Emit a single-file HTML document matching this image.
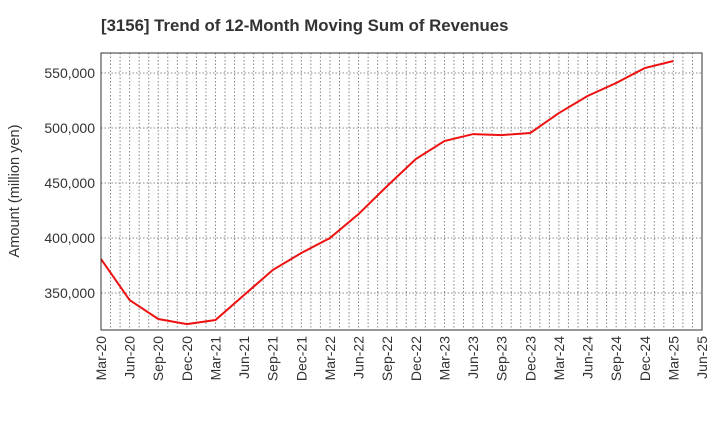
<!DOCTYPE html>
<html><head><meta charset="utf-8"><style>
body{margin:0;background:#fff;font-family:"Liberation Sans",sans-serif}
</style></head><body>
<svg width="720" height="440" xmlns="http://www.w3.org/2000/svg">
<text x="101" y="31" font-size="16.8" font-weight="bold" fill="#333">[3156]  Trend of 12-Month Moving Sum of Revenues</text>
<g id="grid"></g>
<g id="yaxis"></g>
<g id="xaxis"></g>
<text transform="translate(19,191) rotate(-90)" text-anchor="middle" font-size="14.6" fill="#333">Amount (million yen)</text>
<polyline id="line" fill="none" stroke="#ee1111" stroke-width="2"/>
<rect x="101" y="53" width="601" height="277" fill="none" stroke="#333" stroke-width="1"/>
</svg>
<script>
const categories=["Mar-20","Jun-20","Sep-20","Dec-20","Mar-21","Jun-21","Sep-21","Dec-21","Mar-22","Jun-22","Sep-22","Dec-22","Mar-23","Jun-23","Sep-23","Dec-23","Mar-24","Jun-24","Sep-24","Dec-24","Mar-25","Jun-25"];
const values=[380900,343600,326400,321800,325500,348200,370900,386400,400000,421800,447300,471800,488200,494500,493600,495500,513600,529100,540900,554500,560900];
const yTicks=[350000,400000,450000,500000,550000];
const L=101,R=702,T=53,B=330,yMin=316400,yMax=568200;
const n=categories.length-1;
function x(i){return L+(R-L)*i/n;}
function y(v){return B-(v-yMin)/(yMax-yMin)*(B-T);}
const NS="http://www.w3.org/2000/svg";
const grid=document.getElementById('grid'),ya=document.getElementById('yaxis'),xa=document.getElementById('xaxis');
for(let m=1;m<n*3;m++){const xx=L+(R-L)*m/(n*3);
 const l=document.createElementNS(NS,'line');
 
 
 l.setAttribute('x1',xx);l.setAttribute('x2',xx);l.setAttribute('y1',T);l.setAttribute('y2',B);
 l.setAttribute('stroke','#888');l.setAttribute('stroke-dasharray','1.5,2');l.setAttribute('stroke-width','1');grid.appendChild(l);}
yTicks.forEach(v=>{const yy=y(v);
 const l=document.createElementNS(NS,'line');
 
 
 l.setAttribute('x1',L);l.setAttribute('x2',R);l.setAttribute('y1',yy);l.setAttribute('y2',yy);
 l.setAttribute('stroke','#888');l.setAttribute('stroke-dasharray','1.5,2');grid.appendChild(l);
 const t=document.createElementNS(NS,'text');
 
 
 t.setAttribute('x',L-6);t.setAttribute('y',yy+5);t.setAttribute('text-anchor','end');t.setAttribute('font-size','14');t.setAttribute('fill','#333');
 t.textContent=v.toLocaleString('en-US');ya.appendChild(t);});
categories.forEach((c,i)=>{const xx=x(i);
 const t=document.createElementNS(NS,'text');
 
 
 t.setAttribute('transform','translate('+(xx+5)+','+(B+6)+') rotate(-90)');t.setAttribute('text-anchor','end');t.setAttribute('font-size','14');t.setAttribute('fill','#333');
 t.textContent=c;xa.appendChild(t);});
document.getElementById('line').setAttribute('points',values.map((v,i)=>x(i)+','+y(v)).join(' '));
</script>
</body></html>
